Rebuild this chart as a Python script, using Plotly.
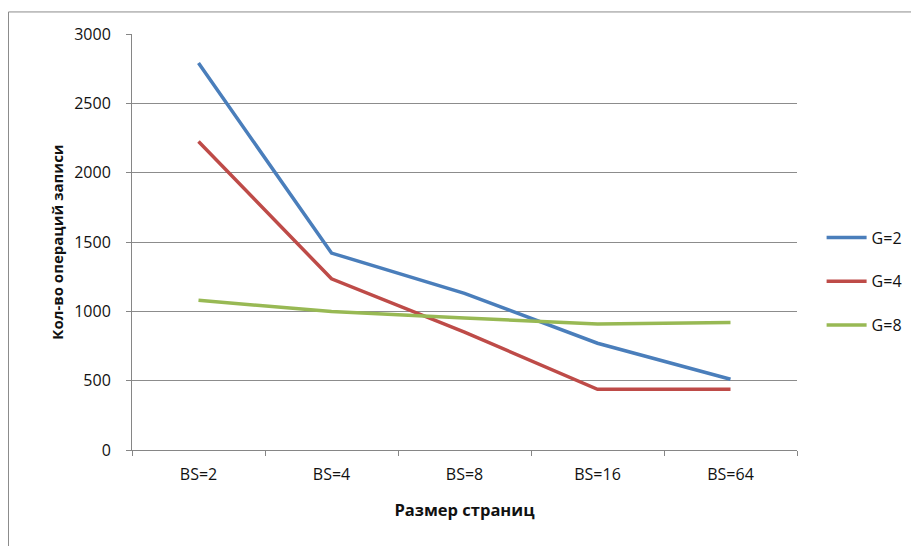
import plotly.graph_objects as go

categories = ["BS=2", "BS=4", "BS=8", "BS=16", "BS=64"]
g2 = [2790, 1420, 1130, 770, 510]
g4 = [2225, 1235, 850, 438, 438]
g8 = [1080, 998, 952, 908, 920]
series_names = ["G=2", "G=4", "G=8"]
colors = ["#4A7EBB", "#BE4B48", "#98B954"]
y_ticks = [0, 500, 1000, 1500, 2000, 2500, 3000]

fig = go.Figure()
for i, (name, vals) in enumerate(zip(series_names, [g2, g4, g8])):
    fig.add_trace(go.Scatter(x=categories, y=vals, mode="lines", name=name,
                             line=dict(color=colors[i], width=3.5),
                             legendgroup=name))

font_family = "Open Sans, Liberation Sans, Arial, sans-serif"
fig.update_layout(
    width=911, height=538,
    margin=dict(l=124, r=122, t=26, b=96),
    plot_bgcolor="white", paper_bgcolor="white",
    font=dict(family=font_family, size=16, color="#111"),
    showlegend=True,
    legend=dict(x=1.037, y=0.405, xanchor="left", yanchor="middle",
                tracegroupgap=20, itemwidth=40,
                font=dict(size=16, color="#111"), bgcolor="rgba(0,0,0,0)"),
    xaxis=dict(type="category", tickson="boundaries", ticks="outside",
               ticklen=5, tickcolor="#868686", showline=True, linecolor="#868686",
               linewidth=1, showgrid=False, range=[-0.5, 4.5],
               ticklabelstandoff=10,
               title=dict(text="<b>Размер страниц</b>", font=dict(size=16.5), standoff=20),
               tickfont=dict(size=16)),
    yaxis=dict(range=[0, 3000], tickvals=y_ticks, ticks="outside", ticklen=5,
               tickcolor="#868686", showline=True, linecolor="#868686", linewidth=1,
               showgrid=True, gridcolor="#8c8c8c", gridwidth=1, zeroline=False,
               ticklabelstandoff=12,
               title=dict(text="<b>Кол-во операций записи</b>", font=dict(size=15), standoff=6),
               tickfont=dict(size=16)),
)
fig.add_shape(type="rect", xref="paper", yref="paper",
              x0=-0.1857, y0=-0.4, x1=1.3, y1=1.053,
              line=dict(color="#8c8c8c", width=1), layer="below")

fig.write_html("out.html")
